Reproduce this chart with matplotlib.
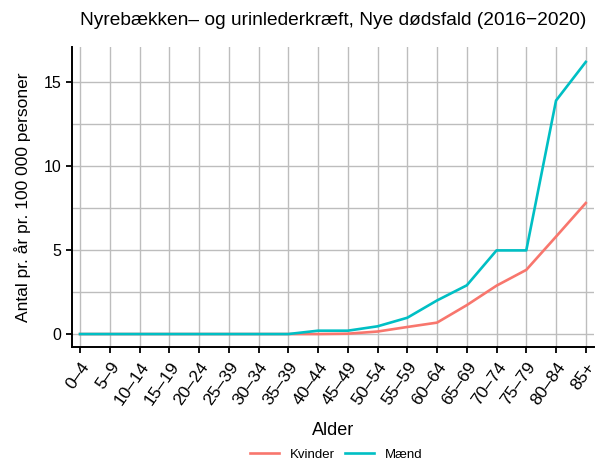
import matplotlib
matplotlib.use("Agg")
import matplotlib.pyplot as plt

# data
age_groups = ["0–4", "5–9", "10–14", "15–19", "20–24", "25–39", "30–34", "35–39",
              "40–44", "45–49", "50–54", "55–59", "60–64", "65–69", "70–74",
              "75–79", "80–84", "85+"]
kvinder = [0, 0, 0, 0, 0, 0, 0, 0, 0, 0.02, 0.15, 0.42, 0.68, 1.72, 2.88, 3.82, 5.8, 7.8]
maend = [0, 0, 0, 0, 0, 0, 0, 0, 0.2, 0.2, 0.46, 0.97, 2.0, 2.9, 4.98, 4.98, 13.9, 16.2]

plt.rcParams["font.family"] = ["Liberation Sans", "DejaVu Sans"]

fig = plt.figure(figsize=(5.95, 4.67), dpi=100)
ax = fig.add_axes([0.121, 0.257, 0.877, 0.642])

x = list(range(len(age_groups)))
ax.plot(x, kvinder, color="#F8766D", lw=1.9, label="Kvinder", zorder=3)
ax.plot(x, maend, color="#00BFC4", lw=1.9, label="Mænd", zorder=3)

ax.set_xlim(-0.27, len(age_groups) - 1 + 0.27)
ax.set_ylim(-0.77, 17.08)
ax.set_xticks(x)
ax.set_xticklabels(age_groups, rotation=55, ha="right", rotation_mode="anchor", fontsize=12.5)
ax.set_yticks([0, 5, 10, 15])
ax.set_yticks([2.5, 7.5, 12.5], minor=True)
ax.tick_params(axis="y", which="minor", length=0)
ax.tick_params(axis="both", which="major", length=4, width=1.3, color="black")
ax.tick_params(axis="y", labelsize=11.5)
ax.tick_params(axis="x", pad=5)

ax.grid(True, which="major", color="#bdbdbd", lw=1.0)
ax.grid(True, which="minor", axis="y", color="#bdbdbd", lw=1.0)
ax.set_axisbelow(True)

for s in ["top", "right"]:
    ax.spines[s].set_visible(False)
for s in ["left", "bottom"]:
    ax.spines[s].set_linewidth(1.4)
    ax.spines[s].set_color("black")

ax.set_xlabel("Alder", fontsize=13, labelpad=10)
ax.set_ylabel("Antal pr. år pr. 100 000 personer", fontsize=12.5, labelpad=9)
ax.set_title("Nyrebækken– og urinlederkræft, Nye dødsfald (2016−2020)", fontsize=13.8, pad=16)

fig.legend(loc="lower center", bbox_to_anchor=(0.565, -0.012), ncol=2, frameon=False,
           fontsize=9.5, handlelength=2.2, columnspacing=0.8, handletextpad=0.8)

fig.savefig("out.png", dpi=100)
